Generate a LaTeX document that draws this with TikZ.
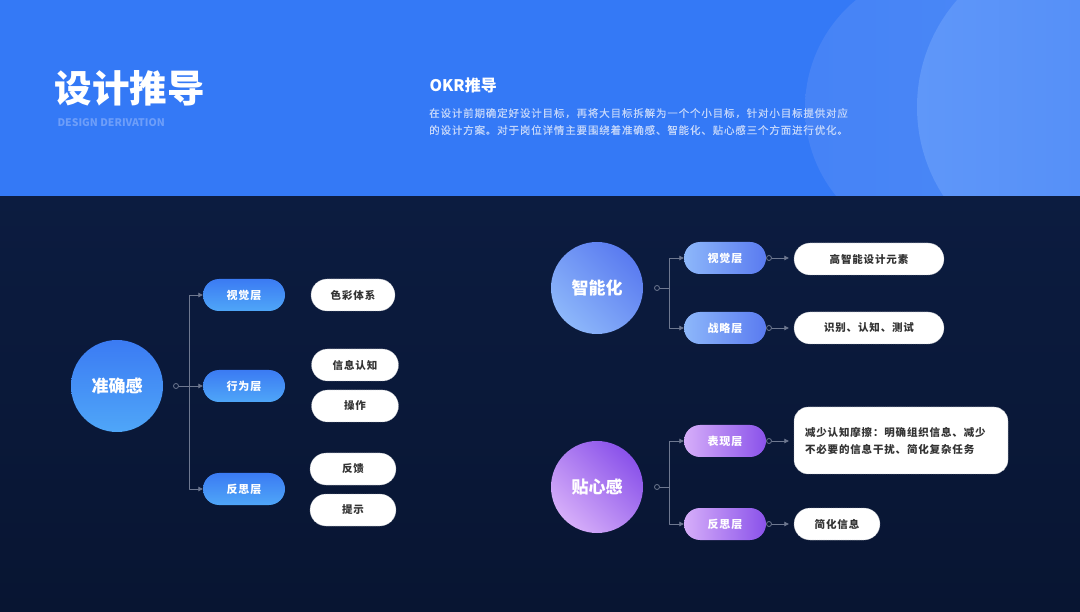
\documentclass[tikz,border=0pt]{standalone}
\usepackage{fontspec}
\setmainfont{Noto Sans CJK SC}
\newfontfamily\spacedfont[LetterSpace=8]{Noto Sans CJK SC}
\newfontfamily\parafont[LetterSpace=8, FakeBold=0.6]{Noto Sans CJK SC}
\usetikzlibrary{arrows.meta,shapes.misc}

\definecolor{hdrblue}{HTML}{3479F6}
\definecolor{arcone}{HTML}{4683F6}
\definecolor{arconeR}{HTML}{4B89F7}
\definecolor{arctwo}{HTML}{5F97F9}
\definecolor{arctwoR}{HTML}{4D89F7}
\definecolor{bgtop}{HTML}{0C1C40}
\definecolor{bgbot}{HTML}{081532}
\definecolor{linegray}{HTML}{6E7890}
\definecolor{boxtext}{HTML}{333333}
\definecolor{dashgray}{HTML}{A9AEB8}
\definecolor{subblue}{HTML}{6E9EF9}
\definecolor{paratext}{HTML}{C3D6FB}
% hub / layer colours
\definecolor{blueA}{HTML}{3B7BF3}
\definecolor{blueB}{HTML}{4FA6F8}
\definecolor{skyA}{HTML}{5A7BF0}
\definecolor{skyB}{HTML}{8DB7FA}
\definecolor{lilacA}{HTML}{8A52EA}
\definecolor{lilacB}{HTML}{D6AEF9}

\begin{document}
\begin{tikzpicture}[x=1pt, y=-1pt, >={Triangle[length=4.5pt,width=4.5pt]},
  line cap=round, line join=round,
  hub/.style={circle, minimum size=92pt, inner sep=0pt, text=white,
    font=\fontsize{17}{20}\selectfont\bfseries},
  layer/.style={rounded rectangle, minimum width=82pt, minimum height=32pt,
    inner sep=0pt, text=white, font=\spacedfont\fontsize{11}{14}\selectfont\bfseries},
  leaf/.style={rounded rectangle, fill=white, draw=dashgray,
    dash pattern=on 1.2pt off 1pt, minimum width=84pt, minimum height=32pt,
    inner sep=0pt, text=boxtext, font=\spacedfont\fontsize{10.5}{13}\selectfont\bfseries},
  dot/.style={circle, draw=linegray, line width=0.8pt, minimum size=5pt, inner sep=0pt},
  link/.style={draw=linegray, line width=0.8pt},
  bluehub/.style={top color=blueA, bottom color=blueB},
  bluelayer/.style={top color=blueA, bottom color=blueB},
  skyhub/.style={top color=skyA, bottom color=skyB, shading angle=-45},
  skylayer/.style={left color=skyB, right color=skyA},
  lilachub/.style={top color=lilacA, bottom color=lilacB, shading angle=-45},
  lilaclayer/.style={left color=lilacB, right color=lilacA}]

  % ===== background =====
  \useasboundingbox (0,0) rectangle (1080,612);
  \shade[top color=bgtop, bottom color=bgbot] (0,196) rectangle (1080,612);
  \fill[hdrblue] (0,0) rectangle (1080,196);
  \begin{scope}
    \clip (0,0) rectangle (1080,196);
    \shade[left color=arcone, right color=arconeR] (945,108) circle (140pt);
    \shade[left color=arctwo, right color=arctwoR] (1080,107) circle (163pt);
  \end{scope}

  % ===== header =====
  \node[anchor=west, text=white, font=\fontsize{37.5}{40}\selectfont\bfseries]
    (title) at (51,88) {设计推导};
  \node[anchor=west, text=subblue, font=\fontsize{10.5}{13}\selectfont\bfseries]
    (subtitle) at (54,123) {DESIGN DERIVATION};
  \node[anchor=west, text=white, font=\fontsize{16}{18}\selectfont\bfseries]
    (okr) at (426,85) {OKR推导};
  \node[anchor=north west, align=left, text=paratext, inner sep=0pt,
    font=\parafont\fontsize{10.5}{17}\selectfont] (para) at (429,108)
    {在设计前期确定好设计目标，再将大目标拆解为一个个小目标，针对小目标提供对应\\
     的设计方案。对于岗位详情主要围绕着准确感、智能化、贴心感三个方面进行优化。};

  % ===== 准确感 =====
  \node[hub, bluehub] (acc) at (117,386) {准确感};
  \node[dot] (acc-o) at (176,386) {};
  \coordinate (acc-f) at (189,386);
  \node[layer, bluelayer] (acc-1) at (244,295) {视觉层};
  \node[layer, bluelayer] (acc-2) at (244,386) {行为层};
  \node[layer, bluelayer] (acc-3) at (244,489) {反思层};
  \node[leaf] (acc-1a) at (353,295) {色彩体系};
  \node[leaf, minimum width=87pt] (acc-2a) at (355,365) {信息认知};
  \node[leaf, minimum width=87pt] (acc-2b) at (355,406) {操作};
  \node[leaf, minimum width=86pt] (acc-3a) at (353,469) {反馈};
  \node[leaf, minimum width=86pt] (acc-3b) at (353,510) {提示};

  \draw[link] (acc-o) -- (acc-f);
  \draw[link, ->] (acc-f) |- (acc-1);
  \draw[link, ->] (acc-f) -- (acc-2);
  \draw[link, ->] (acc-f) |- (acc-3);

  % ===== 智能化 =====
  \node[hub, skyhub] (smart) at (597,288) {智能化};
  \node[dot] (smart-o) at (657,288) {};
  \coordinate (smart-f) at (669,288);
  \node[layer, skylayer] (smart-1) at (725,258) {视觉层};
  \node[layer, skylayer] (smart-2) at (725,328) {战略层};
  \node[dot] (smart-1o) at (769,258) {};
  \node[dot] (smart-2o) at (769,328) {};
  \node[leaf, minimum width=150pt] (smart-1a) at (869,259) {高智能设计元素};
  \node[leaf, minimum width=150pt] (smart-2a) at (869,328) {识别、认知、测试};

  \draw[link] (smart-o) -- (smart-f);
  \draw[link, ->] (smart-f) |- (smart-1);
  \draw[link, ->] (smart-f) |- (smart-2);
  \draw[link, ->, shorten >=5pt] (smart-1o) -- (smart-1o -| smart-1a.west);
  \draw[link, ->, shorten >=5pt] (smart-2o) -- (smart-2o -| smart-2a.west);

  % ===== 贴心感 =====
  \node[hub, lilachub] (care) at (597,487) {贴心感};
  \node[dot] (care-o) at (657,487) {};
  \coordinate (care-f) at (669,487);
  \node[layer, lilaclayer] (care-1) at (725,441) {表现层};
  \node[layer, lilaclayer] (care-2) at (725,524) {反思层};
  \node[dot] (care-1o) at (769,441) {};
  \node[dot] (care-2o) at (769,524) {};
  \node[leaf, rectangle, rounded corners=14pt, minimum width=214pt,
    minimum height=67pt, text width=192pt, align=left, inner xsep=11pt,
    font=\spacedfont\fontsize{10.5}{17}\selectfont\bfseries] (care-1a) at (901,440.5)
    {减少认知摩擦：明确组织信息、减少\\不必要的信息干扰、简化复杂任务};
  \node[leaf, minimum width=86pt] (care-2a) at (837,524) {简化信息};

  \draw[link] (care-o) -- (care-f);
  \draw[link, ->] (care-f) |- (care-1);
  \draw[link, ->] (care-f) |- (care-2);
  \draw[link, ->, shorten >=5pt] (care-1o) -- (care-1o -| care-1a.west);
  \draw[link, ->, shorten >=5pt] (care-2o) -- (care-2o -| care-2a.west);

\end{tikzpicture}
\end{document}
